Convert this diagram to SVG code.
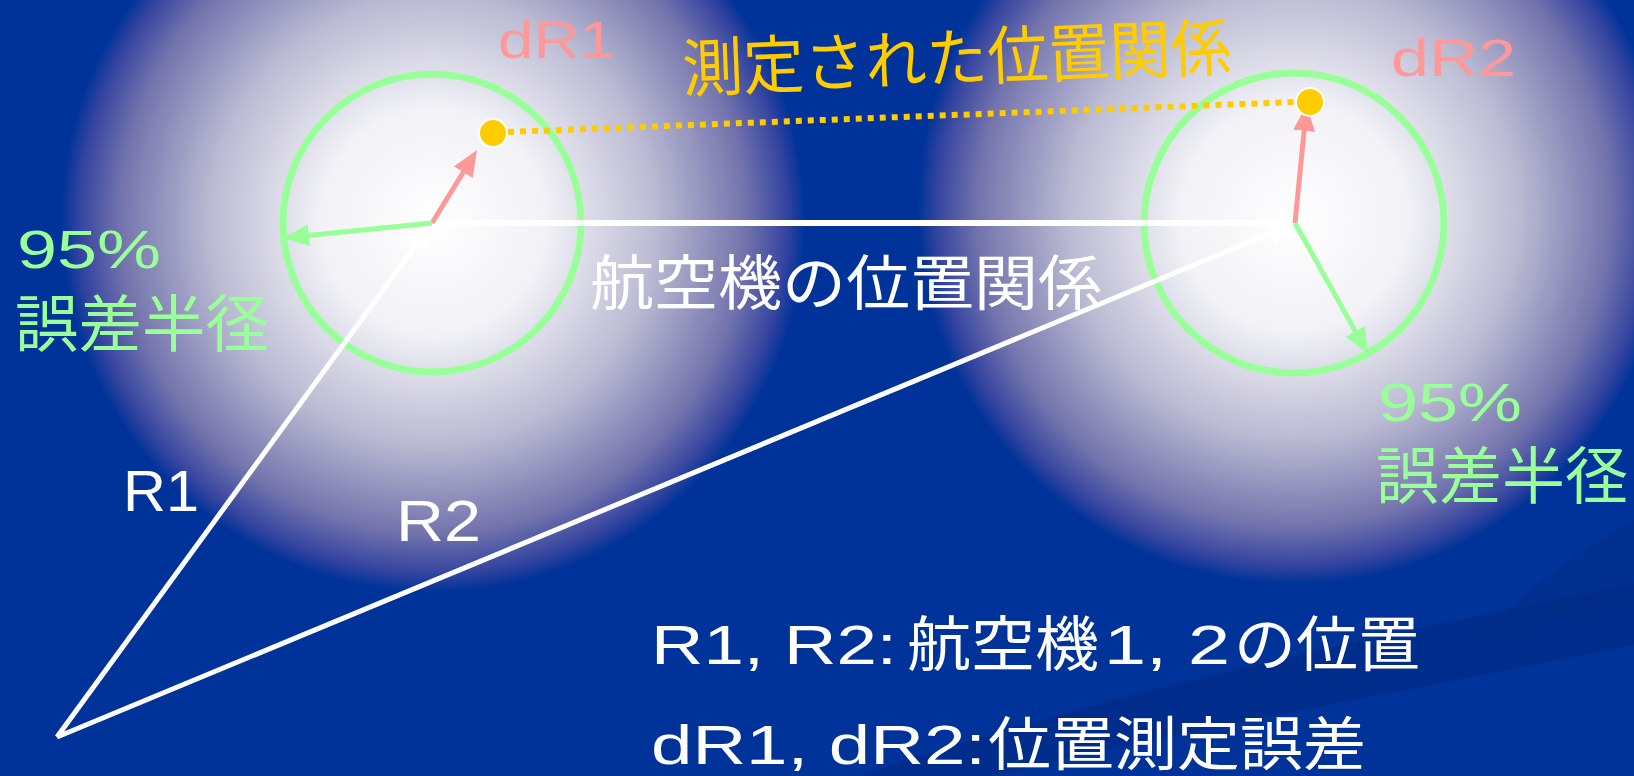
<svg xmlns="http://www.w3.org/2000/svg" width="1634" height="776" viewBox="0 0 1634 776">
  <defs>
    <radialGradient id="glowL" gradientUnits="userSpaceOnUse" cx="433" cy="220" r="372" fx="433" fy="222">
      <stop offset="0" stop-color="#ffffff"/>
      <stop offset="0.3" stop-color="#f2f2f7"/>
      <stop offset="0.6" stop-color="#babad3"/>
      <stop offset="0.84" stop-color="#7474ad"/>
      <stop offset="0.95" stop-color="#34449f"/>
      <stop offset="1" stop-color="#003399"/>
    </radialGradient>
    <radialGradient id="glowR" gradientUnits="userSpaceOnUse" cx="1294" cy="208" r="376" fx="1294" fy="222">
      <stop offset="0" stop-color="#ffffff"/>
      <stop offset="0.3" stop-color="#f2f2f7"/>
      <stop offset="0.6" stop-color="#babad3"/>
      <stop offset="0.84" stop-color="#7474ad"/>
      <stop offset="0.95" stop-color="#34449f"/>
      <stop offset="1" stop-color="#003399"/>
    </radialGradient>
    <marker id="mPink" viewBox="0 0 26 22" refX="11" refY="11" markerWidth="26" markerHeight="22" markerUnits="userSpaceOnUse" orient="auto">
      <path d="M0,0 L26,11 L0,22 z" fill="#ff9999"/>
    </marker>
    <marker id="mGreen" viewBox="0 0 26 22" refX="11" refY="11" markerWidth="26" markerHeight="22" markerUnits="userSpaceOnUse" orient="auto">
      <path d="M0,0 L26,11 L0,22 z" fill="#99ff99"/>
    </marker>
    <marker id="mWhite" viewBox="0 0 26 24" refX="11" refY="12" markerWidth="26" markerHeight="24" markerUnits="userSpaceOnUse" orient="auto">
      <path d="M0,0 L26,12 L0,24 z" fill="#ffffff"/>
    </marker>
    <style>
      .lat { font-family: "Liberation Sans", "Noto Sans CJK JP", sans-serif; }
      .jp { font-family: "Noto Sans CJK JP", "Liberation Sans", sans-serif; }
      .pink { fill: #ff9999; }
      .green { fill: #99ff99; }
      .gold { fill: #ffcc00; }
      .white { fill: #ffffff; }
      .ring { fill: none; stroke: #99ff99; stroke-width: 7; }
      .dot { fill: #ffcc00; stroke: #ffffff; stroke-width: 2; }
    </style>
  </defs>

  <!-- background -->
  <rect x="0" y="0" width="1634" height="776" fill="#003399"/>
  <path d="M860,776 C1080,700 1350,640 1634,585 L1634,645 C1380,695 1120,745 990,776 Z" fill="#002a82" opacity="0.6"/>
  <path d="M1634,520 C1560,560 1520,600 1470,640 L1634,600 Z" fill="#002a82" opacity="0.45"/>
  <circle cx="433" cy="220" r="372" fill="url(#glowL)"/>
  <circle cx="1294" cy="208" r="376" fill="url(#glowR)"/>

  <!-- error circles -->
  <g id="node-aircraft1">
    <circle class="ring" cx="432" cy="223" r="149"/>
  </g>
  <g id="node-aircraft2">
    <circle class="ring" cx="1294" cy="223" r="150"/>
  </g>

  <!-- connectors -->
  <g id="connectors" fill="none">
    <line x1="432" y1="223" x2="1295" y2="223" stroke="#ffffff" stroke-width="6"/>
    <line x1="57" y1="737" x2="423.2" y2="235.1" stroke="#ffffff" stroke-width="5" marker-end="url(#mWhite)"/>
    <line x1="57" y1="737" x2="1281.1" y2="228.8" stroke="#ffffff" stroke-width="5" marker-end="url(#mWhite)"/>
    <line x1="432" y1="223" x2="469.1" y2="162.8" stroke="#ff9999" stroke-width="5" marker-end="url(#mPink)"/>
    <line x1="1295" y1="223" x2="1305.2" y2="119.9" stroke="#ff9999" stroke-width="5" marker-end="url(#mPink)"/>
    <line x1="432" y1="223" x2="297.9" y2="236.5" stroke="#99ff99" stroke-width="5" marker-end="url(#mGreen)"/>
    <line x1="1295" y1="223" x2="1360.7" y2="340.9" stroke="#99ff99" stroke-width="5" marker-end="url(#mGreen)"/>
    <line x1="508" y1="132" x2="1295" y2="102" stroke="#ffcc00" stroke-width="6" stroke-dasharray="6 6"/>
  </g>

  <!-- measured positions -->
  <g id="node-dot1"><circle class="dot" cx="493" cy="133" r="14"/></g>
  <g id="node-dot2"><circle class="dot" cx="1310" cy="102" r="14"/></g>

  <!-- labels -->
  <g id="label-dR1"><text class="lat pink" x="498" y="58" font-size="52" textLength="117" lengthAdjust="spacingAndGlyphs">dR1</text></g>
  <g id="label-dR2"><text class="lat pink" x="1391" y="76" font-size="52" textLength="125" lengthAdjust="spacingAndGlyphs">dR2</text></g>
  <g id="label-measured"><text class="jp gold" x="683" y="92" font-size="64" textLength="550" lengthAdjust="spacingAndGlyphs" transform="rotate(-2.3 683 92)">測定された位置関係</text></g>
  <g id="label-relation"><text class="jp white" x="590" y="305" font-size="60" textLength="512" lengthAdjust="spacingAndGlyphs">航空機の位置関係</text></g>
  <g id="label-95-left">
    <text class="lat green" x="17" y="268" font-size="54" textLength="144" lengthAdjust="spacingAndGlyphs">95%</text>
    <text class="jp green" x="15" y="347" font-size="62" textLength="254" lengthAdjust="spacingAndGlyphs">誤差半径</text>
  </g>
  <g id="label-95-right">
    <text class="lat green" x="1378" y="421" font-size="54" textLength="144" lengthAdjust="spacingAndGlyphs">95%</text>
    <text class="jp green" x="1376" y="499" font-size="62" textLength="252" lengthAdjust="spacingAndGlyphs">誤差半径</text>
  </g>
  <g id="label-R1"><text class="lat white" x="123" y="511" font-size="57" textLength="76" lengthAdjust="spacingAndGlyphs">R1</text></g>
  <g id="label-R2"><text class="lat white" x="396" y="541" font-size="57" textLength="85" lengthAdjust="spacingAndGlyphs">R2</text></g>
  <g id="legend">
    <text class="lat white" x="651" y="664" font-size="56" textLength="246" lengthAdjust="spacingAndGlyphs">R1, R2:</text>
    <text class="jp white" x="907" y="666" font-size="60" textLength="192" lengthAdjust="spacingAndGlyphs">航空機</text>
    <text class="lat white" x="1104" y="664" font-size="56" textLength="126" lengthAdjust="spacingAndGlyphs">1, 2</text>
    <text class="jp white" x="1234" y="666" font-size="60" textLength="186" lengthAdjust="spacingAndGlyphs">の位置</text>
    <text class="lat white" x="651" y="764" font-size="56" textLength="335" lengthAdjust="spacingAndGlyphs">dR1, dR2:</text>
    <text class="jp white" x="988" y="765" font-size="58" textLength="378" lengthAdjust="spacingAndGlyphs">位置測定誤差</text>
  </g>
</svg>
